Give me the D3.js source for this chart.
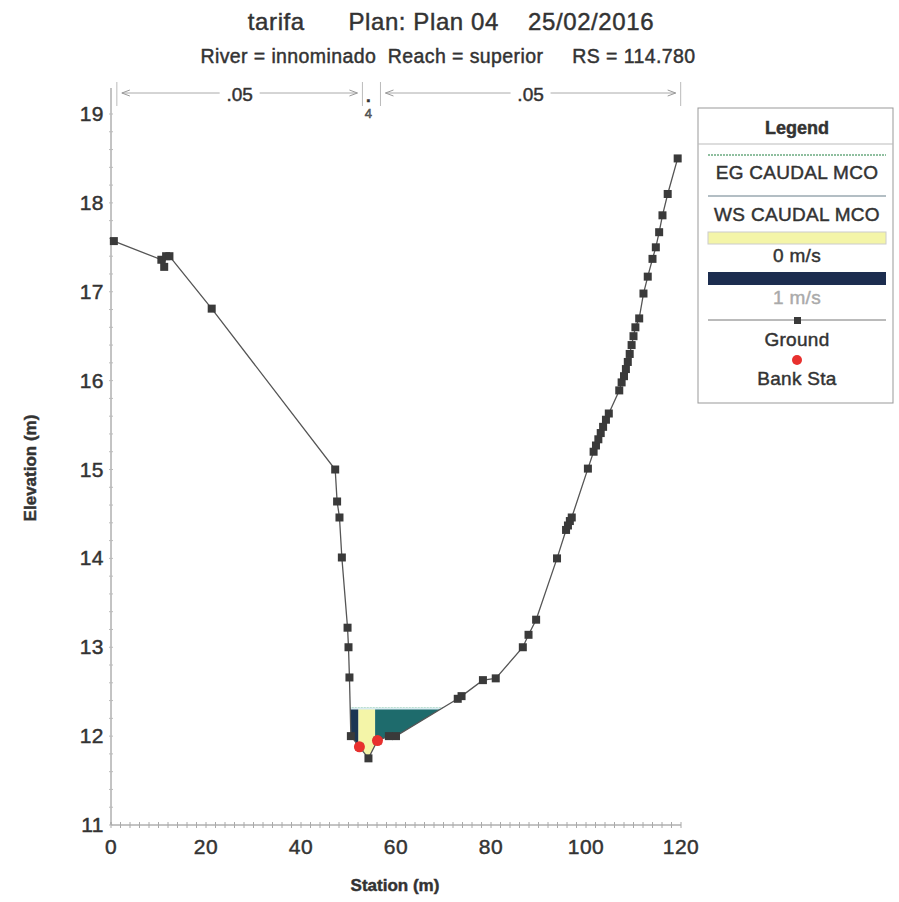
<!DOCTYPE html>
<html><head><meta charset="utf-8">
<script src="https://cdn.jsdelivr.net/npm/d3@7/dist/d3.min.js"></script>
<style>body{margin:0;background:#fff}svg{display:block}text{font-family:"Liberation Sans",Arial,sans-serif;fill:#333;stroke:#333;stroke-width:0.45px}</style>
</head><body><svg id="c" width="899" height="902"></svg>
<script>
// ---- data ----
const groundStation = [0.6,10.6,11.2,11.6,12.3,21.2,47.2,47.6,48.1,48.6,49.8,50.0,50.2,50.5,52.3,54.2,56.1,58.5,60.0,73.0,73.8,78.3,81.0,86.7,87.9,89.5,93.9,95.8,96.2,96.6,97.0,100.4,101.6,102.1,102.6,103.1,103.6,104.2,104.8,107.0,107.5,108.0,108.4,108.8,109.2,109.6,110.0,110.4,111.2,112.1,113.0,114.0,114.7,115.4,116.1,117.2,119.3];
const groundElev    = [17.57,17.36,17.28,17.40,17.40,16.81,15.0,14.64,14.46,14.01,13.22,13.0,12.66,12.0,11.88,11.75,11.95,12.0,12.0,12.42,12.45,12.63,12.65,13.0,13.14,13.31,14.0,14.32,14.37,14.42,14.46,15.01,15.2,15.27,15.34,15.41,15.48,15.56,15.63,15.89,15.98,16.05,16.13,16.21,16.3,16.4,16.5,16.6,16.7,16.98,17.17,17.37,17.5,17.67,17.86,18.1,18.5];
const bankStation = [52.3, 56.1];
const bankElev = [11.88, 11.95];
const wsElev = 12.31;
const egElev = 12.32;
const sliceFrom = [50.0, 52.1, 55.6];
const sliceTo   = [52.1, 55.6, 75.0];
const sliceVel  = [0.95, 0.0, 0.6];
const nValues = [".05", ".04", ".05"];
const nBreaks = [0.6, 52.3, 56.1, 119.3];
const xTicks = [0,20,40,60,80,100,120];
const yTicks = [11,12,13,14,15,16,17,18,19];
const legendItems = ["EG CAUDAL MCO","WS CAUDAL MCO","0 m/s","1 m/s","Ground","Bank Sta"];

const svg = d3.select("#c");
const x = d3.scaleLinear().domain([0,120]).range([111,681]);
const y = d3.scaleLinear().domain([11,19]).range([825,114]);
const ground = groundStation.map((s,i)=>({s, e:groundElev[i]}));
const velColor = d3.scaleLinear().domain([0,0.5,1]).range(["#f4f5a8","#1f7b73","#1c2d4f"]);

// Titles
svg.append("text").attr("x",451).attr("y",30).attr("text-anchor","middle").attr("font-size",24)
  .attr("letter-spacing","0.6").attr("xml:space","preserve").text("tarifa      Plan: Plan 04    25/02/2016");
svg.append("text").attr("x",448).attr("y",63).attr("text-anchor","middle").attr("font-size",19.5)
  .attr("letter-spacing","0.4").attr("xml:space","preserve").text("River = innominado  Reach = superior     RS = 114.780");

// clip: region above ground
const defs = svg.append("defs");
defs.append("clipPath").attr("id","above").append("path")
  .attr("d", d3.area().x(d=>x(d.s)).y0(d=>y(d.e)).y1(0)(ground));

// water slices
const gw = svg.append("g").attr("clip-path","url(#above)");
sliceFrom.forEach((f,i)=>{
  gw.append("rect").attr("x",x(f)).attr("width",x(sliceTo[i])-x(f))
    .attr("y",y(wsElev)).attr("height",y(11)-y(wsElev)).attr("fill",velColor(sliceVel[i]));
});
gw.append("line").attr("x1",x(45)).attr("x2",x(80)).attr("y1",y(egElev)).attr("y2",y(egElev))
  .attr("stroke","#9fd0b0").attr("stroke-width",1.5).attr("stroke-dasharray","2,1");
gw.append("line").attr("x1",x(45)).attr("x2",x(80)).attr("y1",y(wsElev)).attr("y2",y(wsElev))
  .attr("stroke","#d8ebf0").attr("stroke-width",2);

// axes
const xAxis = svg.append("g").attr("transform",`translate(0,${y(11)})`);
xAxis.append("line").attr("x1",x(0)).attr("x2",x(120)).attr("stroke","#888");
xAxis.selectAll(".mt").data(d3.range(0,121,2)).join("line").attr("x1",d=>x(d)).attr("x2",d=>x(d))
  .attr("y1",-3).attr("y2",3).attr("stroke","#aaa");
xAxis.selectAll(".tl").data(xTicks).join("text").attr("x",d=>x(d)).attr("y",29)
  .attr("text-anchor","middle").attr("font-size",21).attr("letter-spacing","0.5").text(d=>d);
const yAxis = svg.append("g").attr("transform",`translate(${x(0)},0)`);
yAxis.append("line").attr("y1",y(11)).attr("y2",88).attr("stroke","#888");
yAxis.selectAll(".mt").data(d3.range(11,19.01,0.2)).join("line").attr("y1",d=>y(d)).attr("y2",d=>y(d))
  .attr("x1",-2).attr("x2",2).attr("stroke","#bbb");
yAxis.selectAll(".tl").data(yTicks).join("text").attr("x",-7).attr("y",d=>y(d)+7)
  .attr("text-anchor","end").attr("font-size",21).attr("letter-spacing","0.5").text(d=>d);
svg.append("text").attr("transform","translate(36,468) rotate(-90)").attr("text-anchor","middle")
  .attr("font-size",17).attr("font-weight","bold").attr("stroke-width",0).text("Elevation (m)");
svg.append("text").attr("x",395).attr("y",891).attr("text-anchor","middle").attr("font-size",17)
  .attr("font-weight","bold").attr("stroke-width",0).text("Station (m)");

// roughness markers
const ny = 93;
nBreaks.forEach(b=>{
  svg.append("line").attr("x1",x(b)+3).attr("x2",x(b)+3).attr("y1",82).attr("y2",106).attr("stroke","#bbb");
});
[[0,1],[2,3]].forEach(([a,b],k)=>{
  const x1 = x(nBreaks[a])+8, x2 = x(nBreaks[b])-2;
  svg.append("line").attr("x1",x1).attr("x2",x2).attr("y1",ny).attr("y2",ny).attr("stroke","#aaa");
  svg.append("path").attr("d",`M${x1+8},${ny-3}L${x1},${ny}L${x1+8},${ny+3}`).attr("fill","none").attr("stroke","#999");
  svg.append("path").attr("d",`M${x2-8},${ny-3}L${x2},${ny}L${x2-8},${ny+3}`).attr("fill","none").attr("stroke","#999");
  const mx = (x1+x2)/2;
  const lbl = nValues[k===0?0:2];
  svg.append("rect").attr("x",mx-20).attr("y",ny-11).attr("width",40).attr("height",22).attr("fill","#fff");
  svg.append("text").attr("x",mx).attr("y",ny+8).attr("text-anchor","middle").attr("font-size",19).text(lbl);
});
svg.append("text").attr("x",x(54.2)).attr("y",102).attr("text-anchor","middle").attr("font-size",17).attr("font-weight","bold").text(nValues[1].slice(0,1));
svg.append("text").attr("x",x(54.2)).attr("y",118).attr("text-anchor","middle").attr("font-size",13).attr("stroke-width",0).style("fill","#777").text(nValues[1].slice(2));

// ground
svg.append("path").datum(ground).attr("d",d3.line().x(d=>x(d.s)).y(d=>y(d.e)))
  .attr("fill","none").attr("stroke","#555").attr("stroke-width",1.3);
svg.selectAll(".gp").data(ground).join("rect").attr("x",d=>x(d.s)-4).attr("y",d=>y(d.e)-4)
  .attr("width",8).attr("height",8).attr("fill","#3a3a3a");
svg.selectAll(".bk").data(bankStation).join("circle").attr("cx",d=>x(d)).attr("cy",(d,i)=>y(bankElev[i]))
  .attr("r",5.5).attr("fill","#e8302e");

// legend
const L = svg.append("g");
L.append("rect").attr("x",698).attr("y",108).attr("width",195).attr("height",295).attr("fill","#fff").attr("stroke","#999");
L.append("line").attr("x1",698).attr("x2",893).attr("y1",144).attr("y2",144).attr("stroke","#bbb");
L.append("text").attr("x",797).attr("y",134).attr("text-anchor","middle").attr("font-size",18).attr("font-weight","bold").attr("stroke-width",0).text("Legend");
L.append("line").attr("x1",708).attr("x2",886).attr("y1",155).attr("y2",155).attr("stroke","#8fbf9f").attr("stroke-width",2).attr("stroke-dasharray","2,1");
const lt = (t,yy,faded)=>L.append("text").attr("x",797).attr("y",yy).attr("text-anchor","middle").attr("font-size",19)
  .attr("letter-spacing","0.3").style("fill",faded?"#aaa":"#333").style("stroke",faded?"#aaa":"#333").text(t);
lt(legendItems[0],179);
L.append("line").attr("x1",708).attr("x2",886).attr("y1",196).attr("y2",196).attr("stroke","#9aa8b0").attr("stroke-width",1.5);
lt(legendItems[1],221);
L.append("rect").attr("x",708).attr("y",232).attr("width",178).attr("height",12).attr("fill",velColor(0)).attr("stroke","#ccc");
lt(legendItems[2],262);
L.append("rect").attr("x",708).attr("y",272).attr("width",178).attr("height",13).attr("fill",velColor(1));
lt(legendItems[3],304,true);
L.append("line").attr("x1",708).attr("x2",886).attr("y1",320).attr("y2",320).attr("stroke","#777");
L.append("rect").attr("x",794).attr("y",317).attr("width",7).attr("height",7).attr("fill","#3a3a3a");
lt(legendItems[4],346);
L.append("circle").attr("cx",797).attr("cy",360).attr("r",5).attr("fill","#e8302e");
lt(legendItems[5],385);
</script></body></html>
